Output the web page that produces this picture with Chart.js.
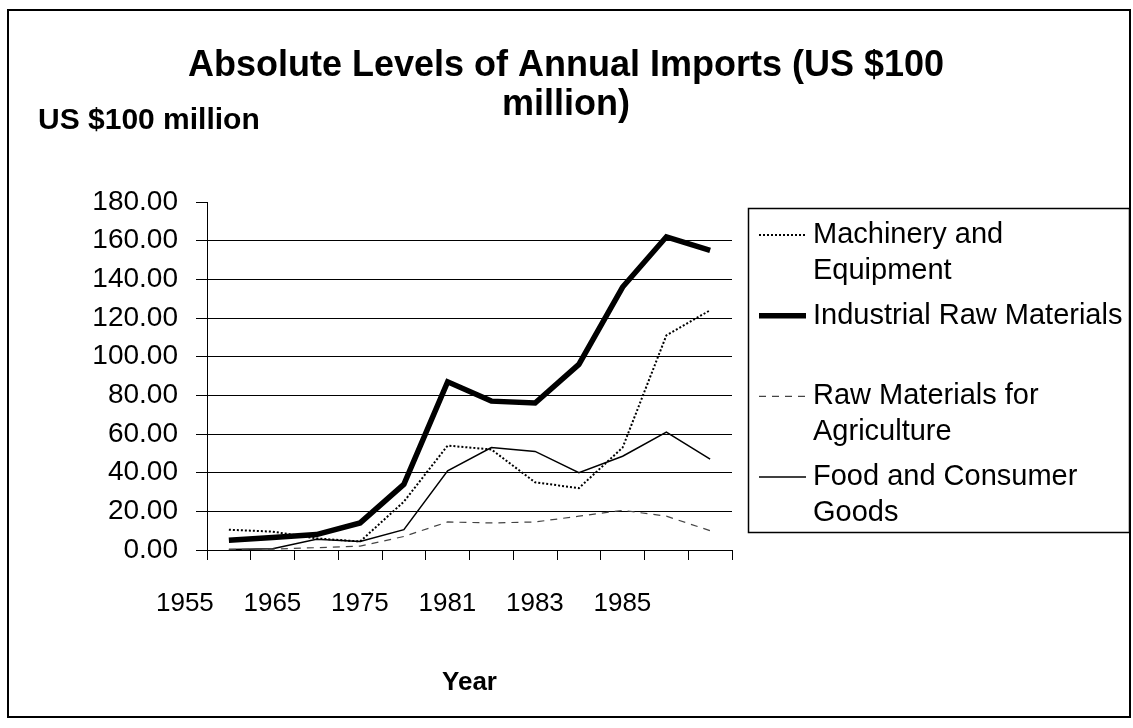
<!DOCTYPE html>
<html>
<head>
<meta charset="utf-8">
<title>Absolute Levels of Annual Imports</title>
<script src="https://cdn.jsdelivr.net/npm/chart.js@4.4.1/dist/chart.umd.min.js"></script>
<style>
  html, body { margin: 0; padding: 0; background: #fff; }
  #wrap { width: 1133px; height: 728px; }
</style>
</head>
<body>
<div id="wrap"><canvas id="chart" width="1133" height="728"></canvas></div>
<script>
// Categories along the x axis (every other one is labelled)
const years = ['1955', '1960', '1965', '1970', '1975', '1978', '1981', '1982', '1983', '1984', '1985', '1986'];

// Series values, US $100 million
const machinery    = [10.5, 9.5, 6.0, 4.4, 25, 54, 52, 35, 32, 53, 111, 124];
const industrial   = [5, 6.5, 8, 14, 34, 87, 77, 76, 96, 136, 162, 155];
const agriculture  = [0.3, 0.5, 1.2, 2.0, 7, 14.5, 14, 14.5, 17.5, 20.5, 17.5, 10];
const foodConsumer = [0.3, 0.7, 5.6, 4.4, 10.5, 41, 53, 51, 40, 48.5, 61, 47];

// Series names
const seriesNames = ['Machinery and Equipment', 'Industrial Raw Materials',
                     'Raw Materials for Agriculture', 'Food and Consumer Goods'];

// Chart heading (two lines) and unit label
const titleLines = ['Absolute Levels of Annual Imports (US $100', 'million)'];
const unitLabel = 'US $100 million';

// Value axis range
const yMin = 0, yMax = 180, yStep = 20;

const FONT = "'Liberation Sans', Arial, Helvetica, sans-serif";

// Outer frame, heading, horizontal unit label and the boxed legend
const decorations = {
  id: 'decorations',
  beforeDraw(chart) {
    const ctx = chart.ctx;
    ctx.save();
    ctx.fillStyle = '#fff';
    ctx.fillRect(0, 0, chart.width, chart.height);
    ctx.strokeStyle = '#000';
    ctx.lineWidth = 2;
    ctx.strokeRect(8, 10, 1122, 707);
    ctx.restore();
  },
  afterDraw(chart) {
    const ctx = chart.ctx;
    ctx.save();
    ctx.fillStyle = '#000';

    // heading
    ctx.font = 'bold 36px ' + FONT;
    ctx.textAlign = 'center';
    ctx.textBaseline = 'alphabetic';
    titleLines.forEach((t, i) => ctx.fillText(t, 566, 76 + i * 39));

    // unit label above the value axis
    ctx.font = 'bold 30px ' + FONT;
    ctx.textAlign = 'left';
    ctx.fillText(unitLabel, 38, 129);

    // legend box
    ctx.textBaseline = 'middle';
    const bx = 748, by = 208, bw = 381, bh = 324;
    ctx.lineWidth = 1.5;
    ctx.strokeStyle = '#000';
    ctx.strokeRect(bx + 0.5, by + 0.5, bw, bh);

    ctx.font = '29px ' + FONT;
    const textX = 813, maxW = 316, lineGap = 36;
    chart.data.datasets.forEach((ds, i) => {
      const y0 = 235 + i * 80.7;
      // sample line in the series' own style
      ctx.save();
      ctx.strokeStyle = ds.borderColor;
      ctx.lineWidth = ds.borderWidth;
      ctx.setLineDash(ds.borderDash || []);
      ctx.beginPath();
      ctx.moveTo(759, y0);
      ctx.lineTo(806, y0);
      ctx.stroke();
      ctx.restore();
      // word-wrapped name
      const words = ds.label.split(' ');
      const lines = [];
      let cur = '';
      words.forEach(w => {
        const test = cur ? cur + ' ' + w : w;
        if (ctx.measureText(test).width > maxW && cur) { lines.push(cur); cur = w; }
        else cur = test;
      });
      if (cur) lines.push(cur);
      lines.forEach((ln, j) => ctx.fillText(ln, textX, y0 + j * lineGap));
    });
    ctx.restore();
  }
};

const ctx = document.getElementById('chart').getContext('2d');
new Chart(ctx, {
  type: 'line',
  data: {
    labels: years,
    datasets: [
      { label: seriesNames[0], data: machinery,    borderColor: '#000', borderWidth: 2,   borderDash: [2, 2] },
      { label: seriesNames[1], data: industrial,   borderColor: '#000', borderWidth: 5.5 },
      { label: seriesNames[2], data: agriculture,  borderColor: '#444', borderWidth: 1.2, borderDash: [7, 6] },
      { label: seriesNames[3], data: foodConsumer, borderColor: '#000', borderWidth: 1.5 }
    ]
  },
  options: {
    responsive: false,
    animation: false,
    devicePixelRatio: 1,
    elements: {
      point: { radius: 0, hoverRadius: 0 },
      line: { tension: 0, fill: false, borderJoinStyle: 'miter', borderCapStyle: 'butt' }
    },
    layout: { padding: { left: 0, right: 401, top: 202, bottom: 0 } },
    plugins: {
      legend: { display: false },
      tooltip: { enabled: false },
      title: { display: false }
    },
    scales: {
      x: {
        type: 'category',
        offset: true,
        afterFit(scale) { scale.height = 178; },
        border: { display: true, color: '#000', width: 1 },
        grid: { display: true, offset: true, drawOnChartArea: false, drawTicks: true,
                tickLength: 10, color: '#000', tickColor: '#000' },
        ticks: {
          autoSkip: false, maxRotation: 0, minRotation: 0,
          color: '#000', padding: 28, labelOffset: -44,
          font: { family: FONT, size: 26 },
          callback: (v, i) => (i % 2 === 0 ? years[i] : '')
        },
        title: {
          display: true, text: 'Year', color: '#000',
          font: { family: FONT, size: 26, weight: 'bold' },
          padding: { top: 0, bottom: 30 }
        }
      },
      y: {
        min: yMin, max: yMax,
        afterFit(scale) { scale.width = 207; },
        border: { display: true, color: '#000', width: 1 },
        grid: {
          drawTicks: true, tickLength: 11, lineWidth: 1,
          color: c => (c.tick && c.tick.value === yMax ? 'rgba(0,0,0,0)' : '#000'),
          tickColor: '#000'
        },
        ticks: {
          stepSize: yStep, color: '#000', padding: 18,
          font: { family: FONT, size: 28 },
          callback: v => Number(v).toFixed(2)
        }
      }
    }
  },
  plugins: [decorations]
});
</script>
</body>
</html>
